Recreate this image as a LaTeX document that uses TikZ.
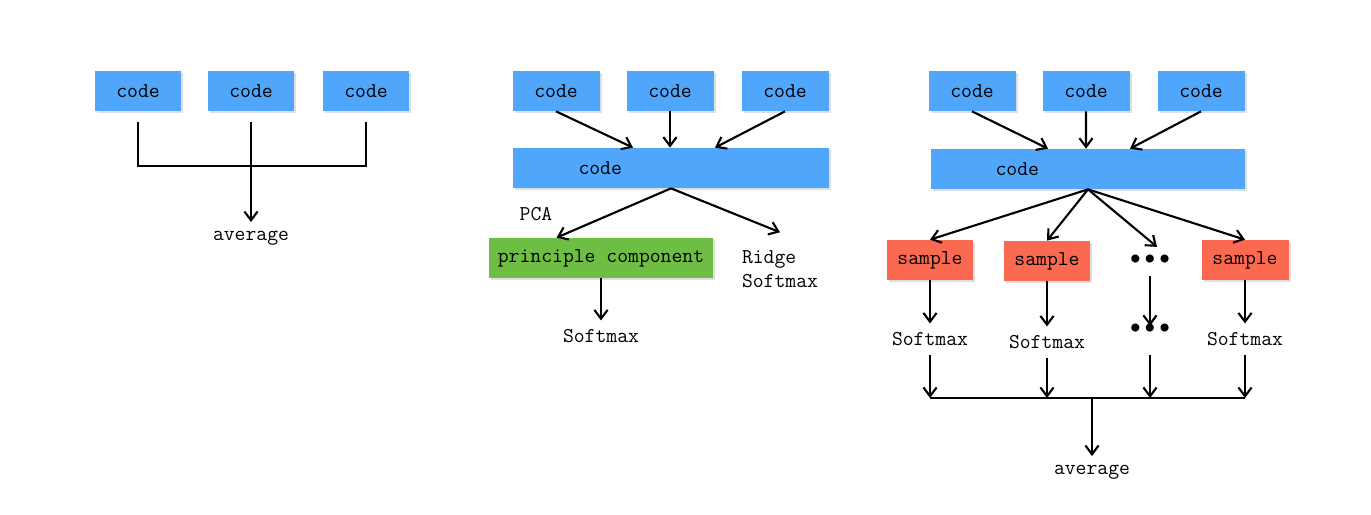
\documentclass[tikz,border=0pt]{standalone}
\usepackage{fontspec}
\newfontfamily\dotfont{DejaVu Sans}
\usetikzlibrary{arrows.meta,shadows}

\definecolor{codeblue}{RGB}{80,166,250}
\definecolor{pcgreen}{RGB}{110,190,68}
\definecolor{samplered}{RGB}{250,105,80}

\tikzset{
  box/.style={fill=#1, minimum height=0.8cm, inner sep=0pt,
    drop shadow={shadow xshift=0.04cm, shadow yshift=-0.04cm, opacity=0.25}},
  lbl/.style={inner sep=2pt},
  dots/.style={inner sep=2pt, font=\dotfont\bfseries\fontsize{13}{13}\selectfont},
  line/.style={line width=1.2pt},
  arr/.style={line width=1.2pt, -{Straight Barb[length=5pt,width=7.5pt,line width=1.2pt]}}
}

\begin{document}
\begin{tikzpicture}[x=0.02cm, y=-0.02cm, font=\ttfamily\fontsize{12}{14}\selectfont]
\useasboundingbox (0,0) rectangle (1371,514);

% left: plain average
\node[box=codeblue, minimum width=1.74cm] (l1) at (138,91) {code};
\node[box=codeblue, minimum width=1.74cm] (l2) at (251,91) {code};
\node[box=codeblue, minimum width=1.74cm] (l3) at (366,91) {code};
\coordinate (lbar) at (251,166);
\node[lbl] (lavg) at (251,238) {average};
\draw[line] ([yshift=-0.22cm]l1.south) |- (lbar) -| ([yshift=-0.22cm]l3.south);
\draw[arr] ([yshift=-0.22cm]l2.south) -- ([yshift=0.1cm]lavg.north);

% middle: PCA
\node[box=codeblue, minimum width=1.74cm] (m1) at (556,91) {code};
\node[box=codeblue, minimum width=1.74cm] (m2) at (670,91) {code};
\node[box=codeblue, minimum width=1.74cm] (m3) at (785,91) {code};
\node[box=codeblue, minimum width=6.32cm, text width=5.9cm] (mwide) at (671,168) {\hspace{1.1cm}code};
\node[box=pcgreen, minimum width=4.5cm] (pc) at (601,258) {principle component};
\node[lbl] (pca) at (536,214) {PCA};
\node[lbl, align=left] (ridge) at (780,269) {Ridge\\Softmax};
\node[lbl] (msoft) at (601,336) {Softmax};
\draw[arr] (m1.south) -- ([xshift=-0.76cm]mwide.north);
\draw[arr] (m2.south) -- ([xshift=-0.02cm]mwide.north);
\draw[arr] (m3.south) -- ([xshift=0.88cm]mwide.north);
\draw[arr] (mwide.south) -- ([xshift=-0.89cm]pc.north);
\draw[arr] (mwide.south) -- ([yshift=0.28cm]ridge.north);
\draw[arr] (pc.south) -- ([yshift=0.1cm]msoft.north);

% right: sampling
\node[box=codeblue, minimum width=1.74cm] (r1) at (972,91) {code};
\node[box=codeblue, minimum width=1.74cm] (r2) at (1086,91) {code};
\node[box=codeblue, minimum width=1.74cm] (r3) at (1201,91) {code};
\node[box=codeblue, minimum width=6.3cm, text width=5.9cm] (rwide) at (1088,169) {\hspace{1.1cm}code};
\node[box=samplered, minimum width=1.72cm] (s1) at (930,260) {sample};
\node[box=samplered, minimum width=1.72cm] (s2) at (1047,261) {sample};
\node[dots] (d1) at (1150,261) {•••};
\node[box=samplered, minimum width=1.74cm] (s4) at (1245,260) {sample};
\node[lbl] (rs1) at (930,339) {Softmax};
\node[lbl] (rs2) at (1047,342) {Softmax};
\node[dots] (d2) at (1150,330) {•••};
\node[lbl] (rs4) at (1245,339) {Softmax};
\coordinate (rbar) at (1092,398);
\node[lbl] (ravg) at (1092,472) {average};
\draw[arr] (r1.south) -- ([xshift=-0.8cm]rwide.north);
\draw[arr] (r2.south) -- ([xshift=-0.04cm]rwide.north);
\draw[arr] (r3.south) -- ([xshift=0.84cm]rwide.north);
\draw[arr] (rwide.south) -- (s1.north);
\draw[arr] (rwide.south) -- (s2.north);
\draw[arr] (rwide.south) -- ([xshift=0.14cm,yshift=0.08cm]d1.north);
\draw[arr] (rwide.south) -- (s4.north);
\draw[arr] (s1.south) -- ([yshift=0.1cm]rs1.north);
\draw[arr] (s2.south) -- ([yshift=0.1cm]rs2.north);
\draw[arr] ([yshift=-0.1cm]d1.south) -- ([yshift=-0.12cm]d2.north);
\draw[arr] (s4.south) -- ([yshift=0.1cm]rs4.north);
\draw[arr] ([yshift=-0.1cm]rs1.south) -- (rs1.south |- rbar);
\draw[arr] ([yshift=-0.1cm]rs2.south) -- (rs2.south |- rbar);
\draw[arr] ([yshift=-0.3cm]d2.south) -- (d2.south |- rbar);
\draw[arr] ([yshift=-0.1cm]rs4.south) -- (rs4.south |- rbar);
\draw[line] (rs1.south |- rbar) -- (rs4.south |- rbar);
\draw[arr] (rbar) -- ([yshift=0.1cm]ravg.north);
\end{tikzpicture}
\end{document}
